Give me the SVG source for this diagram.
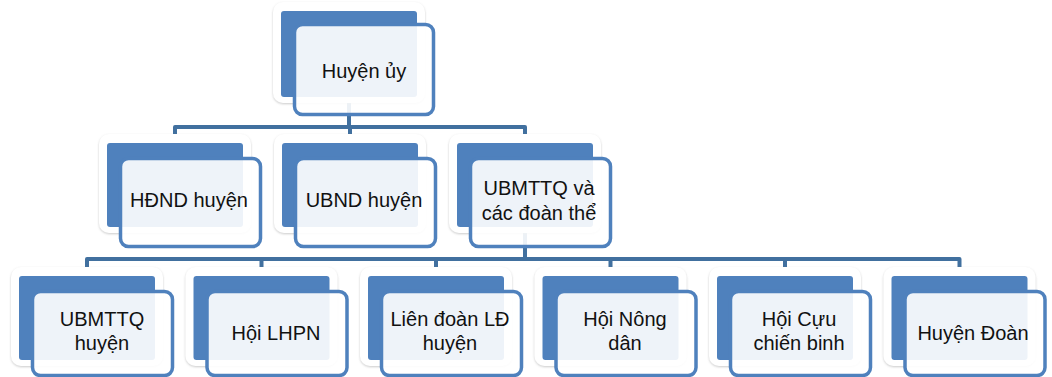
<svg xmlns="http://www.w3.org/2000/svg" width="1052" height="377" viewBox="0 0 1052 377">
  <defs>
    <filter id="halo-shadow" x="-10%" y="-10%" width="120%" height="125%">
      <feDropShadow dx="0" dy="1" stdDeviation="1.2" flood-color="#8a8a8a" flood-opacity="0.45"/>
    </filter>
  </defs>
  <style>
    .halo { fill: #ffffff; filter: url(#halo-shadow); }
    .back { fill: #4f81bd; }
    .front { fill: #ffffff; fill-opacity: 0.9; stroke: #4f81bd; stroke-width: 3.5; }
    .conn { fill: none; stroke: #41709f; stroke-width: 4; stroke-linejoin: round; }
    .label { font-family: "Liberation Sans", Arial, sans-serif; font-size: 20px; fill: #111111; text-anchor: middle; }
  </style>
  <rect width="1052" height="377" fill="#ffffff"/>

  <!-- connectors -->
  <g id="connectors">
    <path class="conn" d="M349 97 V127"/>
    <path class="conn" d="M175 136 V127 H525 V136 M350 127 V136"/>
    <path class="conn" d="M525 227 V259"/>
    <path class="conn" d="M87 268 V259 H959.5 V268 M261.5 259 V268 M436 259 V268 M610.5 259 V268 M785 259 V268"/>
  </g>

  <!-- level 1 -->
  <g id="huyen-uy">
    <rect class="halo" x="273" y="2" width="152" height="101" rx="10"/>
    <rect class="back" x="281" y="11" width="136" height="86" rx="3"/>
    <rect class="front" x="294.5" y="24.5" width="139" height="90" rx="8"/>
    <text class="label" x="364" y="78">Huyện ủy</text>
  </g>

  <!-- level 2 -->
  <g id="hdnd-huyen">
    <rect class="halo" x="99" y="134" width="152" height="99" rx="10"/>
    <rect class="back" x="107" y="143" width="136" height="84" rx="3"/>
    <rect class="front" x="120.5" y="158.5" width="140" height="88" rx="8"/>
    <text class="label" x="189" y="207">HĐND huyện</text>
  </g>
  <g id="ubnd-huyen">
    <rect class="halo" x="274" y="134" width="152" height="99" rx="10"/>
    <rect class="back" x="282" y="143" width="136" height="84" rx="3"/>
    <rect class="front" x="295.5" y="158.5" width="140" height="88" rx="8"/>
    <text class="label" x="364" y="207">UBND huyện</text>
  </g>
  <g id="ubmttq-doan-the">
    <rect class="halo" x="449" y="134" width="152" height="99" rx="10"/>
    <rect class="back" x="457" y="143" width="136" height="84" rx="3"/>
    <rect class="front" x="470.5" y="158.5" width="140" height="88" rx="8"/>
    <text class="label" x="539" y="195">UBMTTQ và</text>
    <text class="label" x="539" y="220">các đoàn thể</text>
  </g>

  <!-- level 3 -->
  <g id="ubmttq-huyen">
    <rect class="halo" x="11" y="267" width="152" height="99" rx="10"/>
    <rect class="back" x="19" y="276" width="136" height="84" rx="3"/>
    <rect class="front" x="32.5" y="291.5" width="140" height="84" rx="8"/>
    <text class="label" x="102" y="326">UBMTTQ</text>
    <text class="label" x="102" y="350">huyện</text>
  </g>
  <g id="hoi-lhpn">
    <rect class="halo" x="185.5" y="267" width="152" height="99" rx="10"/>
    <rect class="back" x="193.5" y="276" width="136" height="84" rx="3"/>
    <rect class="front" x="207" y="291.5" width="140" height="84" rx="8"/>
    <text class="label" x="276" y="340">Hội LHPN</text>
  </g>
  <g id="lien-doan-ld">
    <rect class="halo" x="360" y="267" width="152" height="99" rx="10"/>
    <rect class="back" x="368" y="276" width="136" height="84" rx="3"/>
    <rect class="front" x="381.5" y="291.5" width="140" height="84" rx="8"/>
    <text class="label" x="450" y="326">Liên đoàn LĐ</text>
    <text class="label" x="450" y="350">huyện</text>
  </g>
  <g id="hoi-nong-dan">
    <rect class="halo" x="534.5" y="267" width="152" height="99" rx="10"/>
    <rect class="back" x="542.5" y="276" width="136" height="84" rx="3"/>
    <rect class="front" x="556" y="291.5" width="140" height="84" rx="8"/>
    <text class="label" x="625" y="326">Hội Nông</text>
    <text class="label" x="625" y="350">dân</text>
  </g>
  <g id="hoi-cuu-chien-binh">
    <rect class="halo" x="709" y="267" width="152" height="99" rx="10"/>
    <rect class="back" x="717" y="276" width="136" height="84" rx="3"/>
    <rect class="front" x="730.5" y="291.5" width="140" height="84" rx="8"/>
    <text class="label" x="799" y="326">Hội Cựu</text>
    <text class="label" x="799" y="350">chiến binh</text>
  </g>
  <g id="huyen-doan">
    <rect class="halo" x="883.5" y="267" width="152" height="99" rx="10"/>
    <rect class="back" x="891.5" y="276" width="136" height="84" rx="3"/>
    <rect class="front" x="905" y="291.5" width="140" height="84" rx="8"/>
    <text class="label" x="973" y="340">Huyện Đoàn</text>
  </g>
</svg>
